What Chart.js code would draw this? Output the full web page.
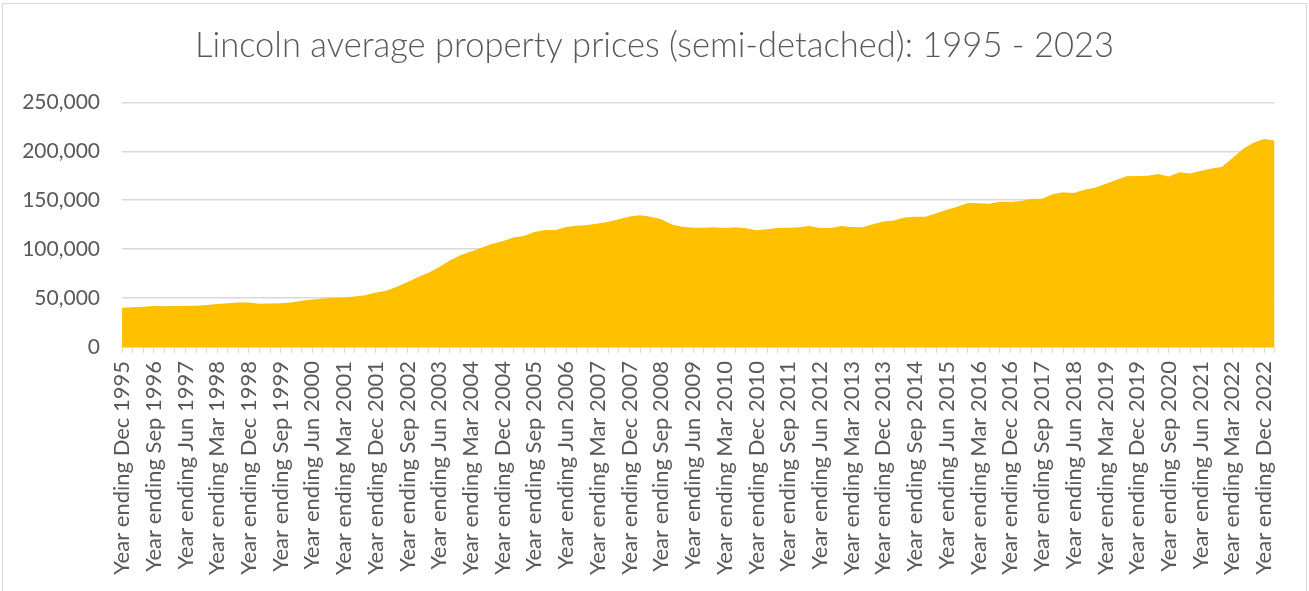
<!DOCTYPE html>
<html>
<head>
<meta charset="utf-8">
<script src="https://cdn.jsdelivr.net/npm/chart.js@4.4.1/dist/chart.umd.min.js"></script>
<style>
  html, body { margin: 0; padding: 0; background: #fff; overflow: hidden; }
  #frame { position: absolute; left: 2px; top: 3px; width: 1303px; height: 620px; border: 1px solid #d9d9d9; }
  #wrap { position: absolute; left: 0; top: 0; width: 1309px; height: 591px; }
</style>
</head>
<body>
<div id="frame"></div>
<div id="wrap"><canvas id="priceChart"></canvas></div>
<script>
// quarters, Year ending Dec 1995 .. Year ending Mar 2023
const quarterNames = ['Mar', 'Jun', 'Sep', 'Dec'];
const firstYear = 1995;
const firstQuarter = 3; // Dec
const quarterCount = 110;

// average price, semi-detached
const prices = [
    40100, 40500, 41200, 41800, 41600, 42000, 42100, 42100, 43000, 44000,
    44800, 45400, 45600, 44300, 44400, 44600, 45600, 47200, 48600, 49600,
    50200, 50600, 51500, 53000, 55800, 57600, 61500, 66500, 71500, 75900,
    81800, 88300, 93800, 97500, 101500, 105600, 108000, 112000, 113500, 117500,
    119500, 119600, 122700, 123800, 124800, 126300, 128000, 130600, 133300, 134700,
    133000, 130600, 125300, 122900, 121800, 121800, 122500, 121700, 122400, 121400,
    119200, 120400, 121600, 122000, 122500, 123600, 121600, 121700, 123700, 122700,
    122500, 125500, 128200, 129400, 132300, 133100, 133200, 136800, 140400, 143400,
    147100, 146800, 146400, 148400, 148200, 149200, 151300, 151600, 156000, 158200,
    157400, 160800, 162700, 166500, 170800, 174600, 174800, 175100, 176800, 174300,
    178500, 177300, 179800, 182400, 184000, 193000, 202400, 208800, 212700, 211000
];

const yTicks = [0, 50000, 100000, 150000, 200000, 250000];

const categories = [];
for (let i = 0; i < quarterCount; i++) {
    const q = firstQuarter + i;
    const year = firstYear + Math.floor(q / 4);
    categories.push('Year ending ' + quarterNames[q % 4] + ' ' + year);
}

const textColor = '#595959';
const gridColor = '#d9d9d9';
const fontFamily = 'Lato, "Open Sans", sans-serif';

const ctx = document.getElementById('priceChart').getContext('2d');
const chart = new Chart(ctx, {
    type: 'line',
    data: {
        labels: categories,
        datasets: [{
            label: 'Semi-detached',
            data: prices,
            backgroundColor: '#FFC000',
            borderColor: '#FFC000',
            borderWidth: 0,
            pointRadius: 0,
            fill: 'origin',
            tension: 0
        }]
    },
    options: {
        responsive: true,
        maintainAspectRatio: false,
        animation: false,
        layout: {
            padding: 0
        },
        plugins: {
            legend: { display: false },
            tooltip: { enabled: false },
            title: {
                display: true,
                text: 'Lincoln average property prices (semi-detached): 1995 - 2023',
                color: textColor,
                font: { family: fontFamily, size: 34.5, weight: 300 },
                padding: { top: 25, bottom: 36 }
            }
        },
        scales: {
            x: {
                offset: false,
                grid: {
                    display: true,
                    drawOnChartArea: false,
                    drawTicks: true,
                    tickLength: 6,
                    color: gridColor
                },
                border: { display: true, color: gridColor, width: 1 },
                ticks: {
                    autoSkip: false,
                    maxRotation: 90,
                    minRotation: 90,
                    padding: 8,
                    color: textColor,
                    font: { family: fontFamily, size: 22 },
                    callback: function (value, index) {
                        return index % 3 === 0 ? categories[index] : '';
                    }
                },
                afterFit: function (scale) {
                    scale.height = 244;
                }
            },
            y: {
                min: 0,
                max: 250000,
                afterBuildTicks: function (scale) {
                    scale.ticks = yTicks.map(v => ({ value: v }));
                },
                grid: {
                    color: gridColor,
                    lineWidth: 1.5,
                    drawTicks: false
                },
                border: { display: false },
                ticks: {
                    padding: 22,
                    color: textColor,
                    font: { family: fontFamily, size: 21 },
                    callback: function (value) {
                        return value.toLocaleString('en-US');
                    }
                },
                afterFit: function (scale) {
                    scale.width = 122;
                }
            },
            // empty right-hand axis, only keeps the plot clear of the right edge
            yRight: {
                position: 'right',
                min: 0,
                max: 250000,
                grid: { display: false, drawTicks: false },
                border: { display: false },
                ticks: { display: false },
                afterFit: function (scale) {
                    scale.width = 30;
                }
            }
        }
    }
});
</script>
</body>
</html>
